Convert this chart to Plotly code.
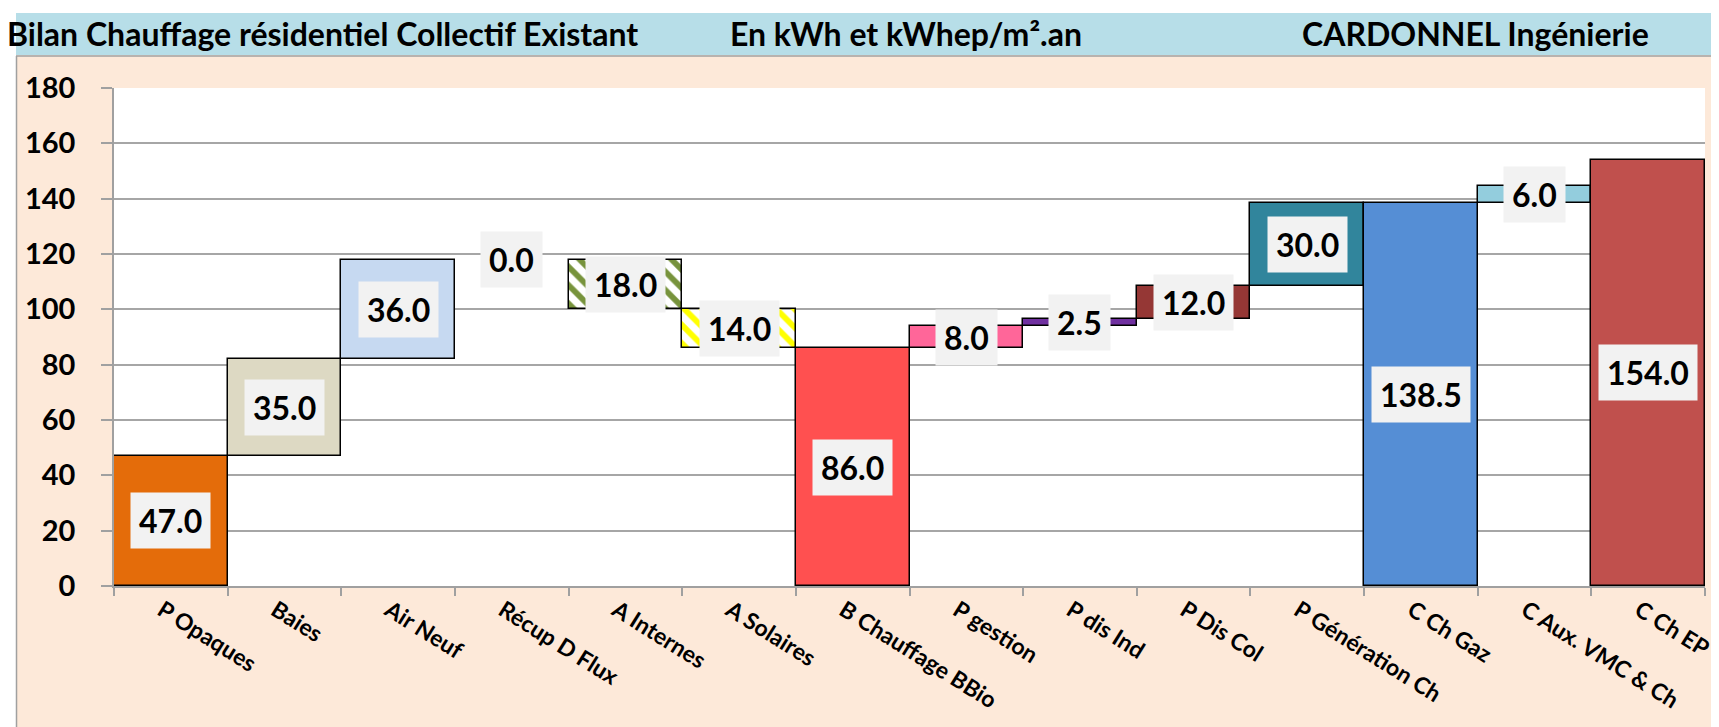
import plotly.graph_objects as go

W, H = 1719, 727

categories = ["P Opaques", "Baies", "Air Neuf", "Récup D Flux", "A Internes", "A Solaires",
              "B Chauffage BBio", "P gestion", "P dis Ind", "P Dis Col", "P Génération Ch",
              "C Ch Gaz", "C Aux. VMC & Ch", "C Ch EP"]
values = [47.0, 35.0, 36.0, 0.0, 18.0, 14.0, 86.0, 8.0, 2.5, 12.0, 30.0, 138.5, 6.0, 154.0]
bases = [0.0, 47.0, 82.0, 118.0, 100.0, 86.0, 0.0, 86.0, 94.0, 96.5, 108.5, 0.0, 138.5, 0.0]
colors = ["#E46C0A", "#DDD9C3", "#C6D9F1", "rgba(0,0,0,0)", "#77933C", "#FFFF00",
          "#FF5050", "#FF6699", "#7030A0", "#953735", "#31859C", "#558ED5", "#93CDDD", "#C0504D"]
patterns = ["", "", "", "", "\\", "\\", "", "", "", "", "", "", "", ""]
line_widths = [1.5, 1.5, 1.5, 0, 1.5, 1.5, 1.5, 1.5, 1.5, 1.5, 1.5, 1.5, 1.5, 1.5]

title_left = "Bilan Chauffage résidentiel Collectif Existant"
title_mid = "En kWh et kWhep/m².an"
title_right = "CARDONNEL Ingénierie"

FONT = "Lato, Carlito, 'Open Sans', sans-serif"

# plot area in pixels
L, R, T, B = 106, 22, 80, 149
pw, ph = W - L - R, H - T - B


def xp(px):
    return (px - L) / pw


def yp(py):
    return (H - B - py) / ph


fig = go.Figure()
fig.add_trace(go.Bar(
    x=categories, y=values, base=bases,
    marker=dict(
        color=colors,
        line=dict(color="#000000", width=line_widths),
        pattern=dict(shape=patterns, size=13, solidity=0.45, fillmode="replace"),
    ),
    hoverinfo="skip", showlegend=False,
))

annotations = []
for c, v, b in zip(categories, values, bases):
    annotations.append(dict(
        x=c, y=b + v / 2, xref="x", yref="y", text=f"{v:.1f}", showarrow=False,
        font=dict(family=FONT, size=32, color="#000000", weight="bold"),
        bgcolor="#F2F2F2", borderpad=8, xanchor="center", yanchor="middle",
    ))

tfont = dict(family=FONT, size=32, color="#000000", weight="bold")
annotations += [
    dict(x=xp(-3), y=yp(26), xref="paper", yref="paper", text=title_left, showarrow=False,
         xanchor="left", yanchor="middle", font=tfont),
    dict(x=xp(898), y=yp(26), xref="paper", yref="paper", text=title_mid, showarrow=False,
         xanchor="center", yanchor="middle", font=tfont),
    dict(x=xp(1467), y=yp(26), xref="paper", yref="paper", text=title_right, showarrow=False,
         xanchor="center", yanchor="middle", font=tfont),
]

shapes = [
    # white margins
    dict(type="rect", xref="paper", yref="paper", x0=xp(-5), x1=xp(8), y0=yp(H + 5), y1=yp(-5),
         fillcolor="#FFFFFF", line=dict(width=0), layer="below"),
    dict(type="rect", xref="paper", yref="paper", x0=xp(-5), x1=xp(W + 5), y0=yp(5), y1=yp(-5),
         fillcolor="#FFFFFF", line=dict(width=0), layer="below"),
    # blue title bar
    dict(type="rect", xref="paper", yref="paper", x0=xp(8), x1=xp(W + 5), y0=yp(47), y1=yp(5),
         fillcolor="#B7DEE8", line=dict(width=0), layer="below"),
    # panel borders
    dict(type="line", xref="paper", yref="paper", x0=xp(8), x1=xp(W + 5), y0=yp(48), y1=yp(48),
         line=dict(color="#A0A0A0", width=1.5), layer="below"),
    dict(type="line", xref="paper", yref="paper", x0=xp(8.5), x1=xp(8.5), y0=yp(48), y1=yp(H + 5),
         line=dict(color="#A0A0A0", width=1.5), layer="below"),
]

fig.update_layout(
    width=W, height=H,
    margin=dict(l=L, r=R, t=T, b=B, autoexpand=False),
    paper_bgcolor="#FDE9D9", plot_bgcolor="#FFFFFF",
    bargap=0,
    annotations=annotations, shapes=shapes,
    font=dict(family=FONT, color="#000000"),
    xaxis=dict(
        type="category", tickson="boundaries", ticks="outside", ticklen=8,
        tickcolor="#A0A0A0", tickwidth=1.5, showline=True, linecolor="#A0A0A0", linewidth=2,
        showgrid=False, tickangle=32, ticklabelstandoff=0, ticklabelshift=-9,
        tickfont=dict(family=FONT, size=23, color="#000000", weight="bold"),
    ),
    yaxis=dict(
        range=[0, 180], dtick=20, tick0=0, showgrid=True, gridcolor="#A6A6A6", gridwidth=1.5,
        ticks="outside", ticklen=11, tickcolor="#A0A0A0", tickwidth=1.5,
        showline=True, linecolor="#A0A0A0", linewidth=1.5, zeroline=False,
        ticklabelstandoff=20,
        tickfont=dict(family=FONT, size=29, color="#000000", weight="bold"),
    ),
)

fig.write_html("out.html")
